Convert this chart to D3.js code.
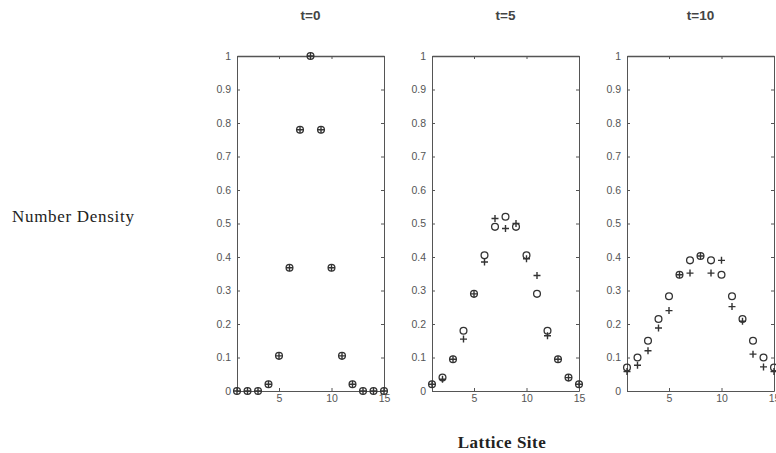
<!DOCTYPE html>
<html>
<head>
<meta charset="utf-8">
<script src="https://cdn.jsdelivr.net/npm/d3@7"></script>
<style>
  body { margin: 0; background: #fff; }
  svg { display: block; }
  .tick text { font-family: "Liberation Sans", Arial, sans-serif; font-size: 10.5px; fill: #555; }
  .domain, .tick line { stroke: #555; }
</style>
</head>
<body>
<svg id="chart" width="776" height="453"></svg>
<script>
// lattice sites and densities
const sites = [1, 2, 3, 4, 5, 6, 7, 8, 9, 10, 11, 12, 13, 14, 15];
const panelTitles = ["t=0", "t=5", "t=10"];

const t0Circle = [0, 0, 0, 0.02, 0.105, 0.368, 0.78, 1.0, 0.78, 0.368, 0.105, 0.02, 0, 0, 0];
const t0Plus = [0, 0, 0, 0.02, 0.105, 0.368, 0.78, 1.0, 0.78, 0.368, 0.105, 0.02, 0, 0, 0];

const t5Circle = [0.02, 0.04, 0.095, 0.18, 0.29, 0.405, 0.49, 0.52, 0.49, 0.405, 0.29, 0.18, 0.095, 0.04, 0.02];
const t5Plus = [0.02, 0.035, 0.095, 0.155, 0.29, 0.385, 0.515, 0.485, 0.5, 0.395, 0.345, 0.165, 0.095, 0.04, 0.02];

const t10Circle = [0.07, 0.1, 0.15, 0.215, 0.283, 0.347, 0.39, 0.403, 0.39, 0.347, 0.283, 0.215, 0.15, 0.1, 0.07];
const t10Plus = [0.058, 0.077, 0.12, 0.188, 0.24, 0.347, 0.352, 0.403, 0.352, 0.39, 0.252, 0.208, 0.11, 0.072, 0.058];

const yTicks = [0, 0.1, 0.2, 0.3, 0.4, 0.5, 0.6, 0.7, 0.8, 0.9, 1];
const xTicks = [5, 10, 15];

const panels = [
  { title: panelTitles[0], circle: t0Circle, plus: t0Plus },
  { title: panelTitles[1], circle: t5Circle, plus: t5Plus },
  { title: panelTitles[2], circle: t10Circle, plus: t10Plus },
];

const svg = d3.select("#chart");
const panelLeft = [237, 432, 627];
const panelW = 147;
const plotTop = 56, plotBottom = 391;
const ink = "#333";

const y = d3.scaleLinear().domain([0, 1]).range([plotBottom, plotTop]);

panels.forEach((p, i) => {
  const x = d3.scaleLinear().domain([1, 15]).range([panelLeft[i], panelLeft[i] + panelW]);
  const g = svg.append("g");

  // box with inward ticks, MATLAB style
  g.append("g")
    .attr("transform", `translate(${panelLeft[i]},0)`)
    .call(d3.axisLeft(y).tickValues(yTicks).tickSizeInner(-3).tickSizeOuter(0).tickPadding(6)
      .tickFormat(d3.format("")));
  g.append("g")
    .attr("transform", `translate(${panelLeft[i] + panelW},0)`)
    .call(d3.axisRight(y).tickValues(yTicks).tickSizeInner(-3).tickSizeOuter(0).tickFormat(""));
  g.append("g")
    .attr("transform", `translate(0,${plotBottom})`)
    .call(d3.axisBottom(x).tickValues(xTicks).tickSizeInner(-3).tickSizeOuter(0).tickPadding(4));
  g.append("g")
    .attr("transform", `translate(0,${plotTop})`)
    .call(d3.axisTop(x).tickValues(xTicks).tickSizeInner(-3).tickSizeOuter(0).tickFormat(""))
    .select(".domain").attr("stroke", "#222").attr("stroke-width", 1.5);

  // title
  svg.append("text")
    .attr("x", x(8))
    .attr("y", 20)
    .attr("text-anchor", "middle")
    .style("font-family", "Liberation Sans, Arial, sans-serif")
    .style("font-weight", "bold")
    .style("font-size", "13.5px")
    .style("fill", "#444")
    .text(p.title);

  // open circles
  g.append("g").selectAll("circle")
    .data(sites)
    .join("circle")
    .attr("cx", (d) => x(d))
    .attr("cy", (d, j) => y(p.circle[j]))
    .attr("r", 3.4)
    .attr("fill", "none")
    .attr("stroke", ink)
    .attr("stroke-width", 1.3);

  // plus markers
  g.append("g").selectAll("path")
    .data(sites)
    .join("path")
    .attr("d", (d, j) => {
      const cx = x(d), cy = y(p.plus[j]);
      return `M${cx - 3.5},${cy}H${cx + 3.5}M${cx},${cy - 3.5}V${cy + 3.5}`;
    })
    .attr("stroke", ink)
    .attr("stroke-width", 1.4);
});

svg.append("text")
  .attr("x", 12)
  .attr("y", 222)
  .style("font-family", "Liberation Serif, Times New Roman, serif")
  .style("font-size", "17px")
  .style("letter-spacing", "0.7px")
  .style("fill", "#222")
  .text("Number Density");

svg.append("text")
  .attr("x", 502)
  .attr("y", 448)
  .attr("text-anchor", "middle")
  .style("font-family", "Liberation Serif, Times New Roman, serif")
  .style("font-weight", "bold")
  .style("font-size", "17px")
  .style("letter-spacing", "0.5px")
  .style("fill", "#222")
  .text("Lattice Site");
</script>
</body>
</html>
